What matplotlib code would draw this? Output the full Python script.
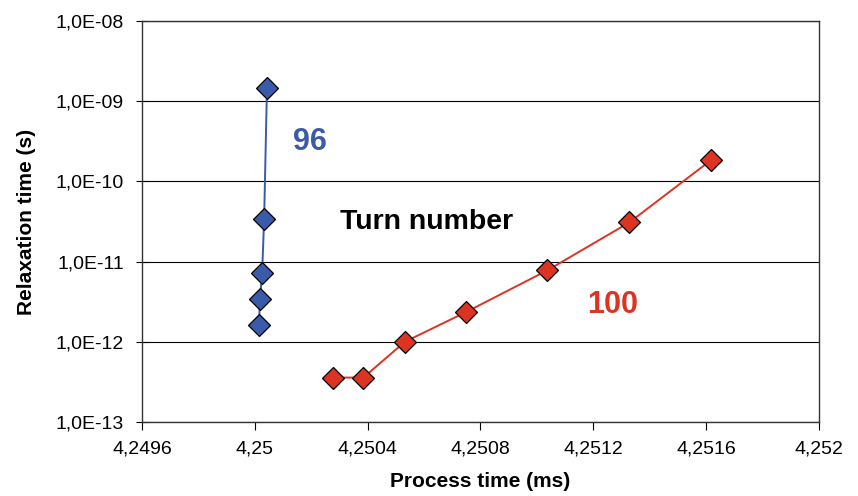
import numpy as np
import matplotlib.pyplot as plt
from matplotlib.ticker import FuncFormatter, LogLocator, NullLocator

plt.rcParams['font.family'] = ['Liberation Sans', 'DejaVu Sans']

# turn 96
x96 = [4.250043, 4.250033, 4.250026, 4.250018, 4.250015]
y96 = [1.45e-9, 3.4e-11, 7.3e-12, 3.42e-12, 1.64e-12]

# turn 100
x100 = [4.250276, 4.250385, 4.250532, 4.250747, 4.251037, 4.251328, 4.251619]
y100 = [3.58e-13, 3.58e-13, 1.0e-12, 2.33e-12, 7.77e-12, 3.08e-11, 1.86e-10]

xticks = [4.2496, 4.25, 4.2504, 4.2508, 4.2512, 4.2516, 4.252]

blue = '#3A5BA9'
red = '#DD3322'

fig = plt.figure(figsize=(8.58, 4.96), dpi=100)
ax = fig.add_axes([0.1655, 0.1492, 0.789, 0.8085])

ax.plot(x96, y96, color=blue, lw=1.4, marker='D', ms=11,
        mfc=blue, mec='black', mew=0.9, zorder=3)
ax.plot(x100, y100, color=red, lw=1.4, marker='D', ms=11,
        mfc=red, mec='black', mew=0.9, zorder=3)

ax.set_yscale('log')
ax.set_ylim(1e-13, 1e-8)
ax.set_xlim(4.2496, 4.252)
ax.set_xticks(xticks)
ax.yaxis.set_major_locator(LogLocator(base=10, numticks=10))
ax.yaxis.set_minor_locator(NullLocator())

ax.xaxis.set_major_formatter(FuncFormatter(lambda v, p: ('%g' % round(v, 6)).replace('.', ',')))
ax.yaxis.set_major_formatter(FuncFormatter(lambda v, p: '1,0E-%02d' % round(-np.log10(v))))

ax.grid(axis='y', which='major', color='black', lw=0.8)
for s in ax.spines.values():
    s.set_color('#333333')
    s.set_linewidth(1.0)

ax.tick_params(axis='y', direction='inout', length=8, labelsize=14, pad=9)
ax.tick_params(axis='x', direction='out', length=6, labelsize=14, pad=7)

ax.set_xlabel('Process time (ms)', fontsize=15, fontweight='bold', labelpad=11)
ax.set_ylabel('Relaxation time (s)', fontsize=15, fontweight='bold', labelpad=14)

ax.text(4.250135, 3.1e-10, '96', color=blue, fontsize=22, fontweight='bold',
        ha='left', va='center')
ax.text(4.250302, 3.14e-11, 'Turn number', color='black', fontsize=20.5, fontweight='bold',
        ha='left', va='center')
ax.text(4.251178, 2.9e-12, '100', color=red, fontsize=22, fontweight='bold',
        ha='left', va='center')

fig.savefig('out.png', dpi=100)
